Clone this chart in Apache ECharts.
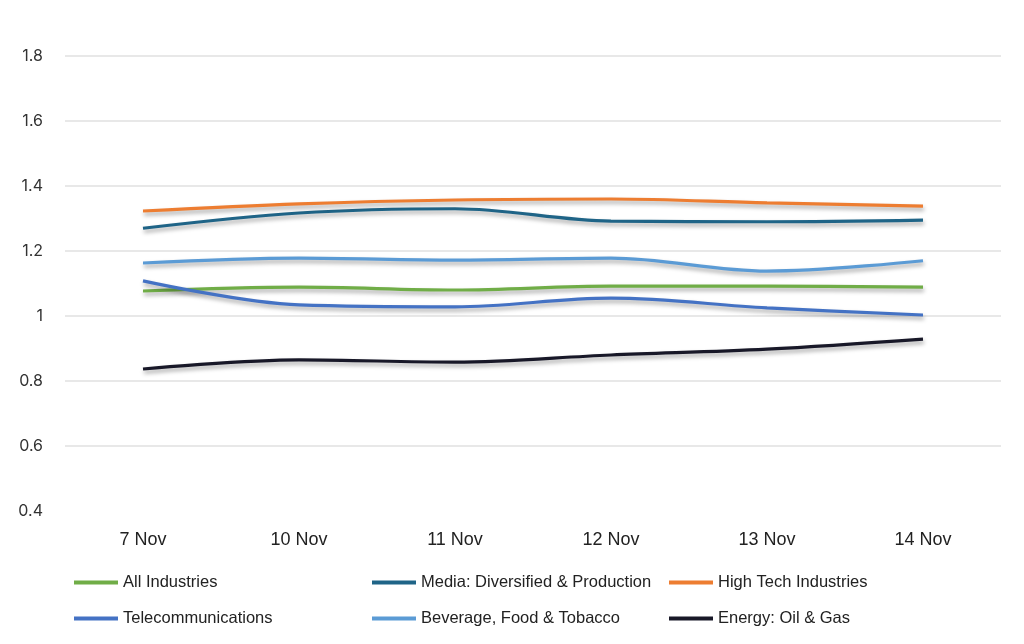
<!DOCTYPE html>
<html><head><meta charset="utf-8">
<script src="https://cdn.jsdelivr.net/npm/echarts@6/dist/echarts.min.js"></script>
<style>html,body{margin:0;padding:0;background:#fff}#c{width:1024px;height:644px}</style>
</head><body><div id="c"></div>
<script>
const categories = ['7 Nov','10 Nov','11 Nov','12 Nov','13 Nov','14 Nov'];
const allIndustries = [1.077, 1.089, 1.080, 1.092, 1.092, 1.089];
const media = [1.270, 1.317, 1.330, 1.292, 1.290, 1.295];
const highTech = [1.323, 1.345, 1.357, 1.360, 1.348, 1.338];
const telecom = [1.108, 1.034, 1.028, 1.055, 1.025, 1.003];
const beverage = [1.163, 1.178, 1.172, 1.178, 1.138, 1.170];
const energy = [0.837, 0.865, 0.858, 0.880, 0.898, 0.929];
const yTicks = [0.4, 0.6, 0.8, 1, 1.2, 1.4, 1.6, 1.8];

const names = ['All Industries','Media: Diversified & Production','High Tech Industries','Telecommunications','Beverage, Food & Tobacco','Energy: Oil & Gas'];
const values = [allIndustries, media, highTech, telecom, beverage, energy];
const colors = ['#70ad47','#1f6487','#ed7d31','#4472c4','#5b9bd5','#181828'];

const legendFont = {fontFamily:'Liberation Sans Narrow, Liberation Sans, sans-serif', fontSize:16.5, color:'#222'};
function legend(left, items){
  return {left:left, top:569, orient:'vertical', itemGap:19, itemWidth:44, itemHeight:4, icon:'rect',
    data:items, textStyle:legendFont, selectedMode:false};
}
const chart = echarts.init(document.getElementById('c'));
chart.setOption({
  animation:false,
  backgroundColor:'#fff',
  grid:{left:65, right:23, top:56, bottom:133},
  legend:[legend(69,[names[0],names[3]]), legend(367,[names[1],names[4]]), legend(664,[names[2],names[5]])],
  xAxis:{type:'category', data:categories, boundaryGap:true,
    axisLine:{show:false}, axisTick:{show:false},
    axisLabel:{margin:20, fontFamily:'Liberation Sans Narrow, Liberation Sans, sans-serif', fontSize:18, color:'#222'}},
  yAxis:{type:'value', min:yTicks[0], max:yTicks[yTicks.length-1], interval:0.2,
    axisLine:{show:false}, axisTick:{show:false},
    axisLabel:{margin:22, fontFamily:'Inter, sans-serif', fontSize:16, color:'#333',
      formatter:v=>String(Math.round(v*10)/10)},
    splitLine:{lineStyle:{width:2, color:['rgba(0,0,0,0)','#e8e8e8','#e8e8e8','#e8e8e8','#e8e8e8','#e8e8e8','#e8e8e8','#e8e8e8']}}},
  series: names.map((n,i)=>({name:n, type:'line', data:values[i], smooth:0.35, symbol:'none',
    color:colors[i],
    lineStyle:{width:3.2, color:colors[i], shadowColor:'rgba(0,0,0,0.35)', shadowBlur:4, shadowOffsetY:3, shadowOffsetX:1}}))
});
</script></body></html>
